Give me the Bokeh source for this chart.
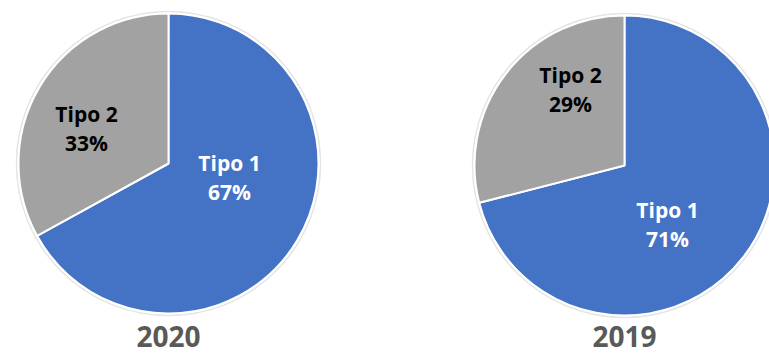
import math
from bokeh.plotting import figure
from bokeh.models import ColumnDataSource
from bokeh.core.properties import value
from bokeh.embed import file_html
from bokeh.resources import INLINE

# ---- data ----
years = ["2020", "2019"]
categories = ["Tipo 1", "Tipo 2"]
shares_2020 = [67, 33]
shares_2019 = [71, 29]

# ---- styling ----
W, H = 769, 354
colors = ["#4472C4", "#A2A2A2"]
text_colors = ["#FFFFFF", "#000000"]
centers = {"2020": (168, 191), "2019": (624, 189)}   # in figure px (y up)
radius = 150
label_offsets = {"2020": [(61, -14), (-82, 35)], "2019": [(43, -59), (-54, 76)]}
line_gap = 14.5
title_y = 18

p = figure(width=W, height=H, x_range=(0, W), y_range=(0, H),
           output_backend="svg", toolbar_location=None, min_border=0)
p.axis.visible = False
p.grid.visible = False
p.outline_line_color = None
p.background_fill_color = "white"
p.border_fill_color = "white"

for year, shares in zip(years, [shares_2020, shares_2019]):
    cx, cy = centers[year]
    total = sum(shares)
    starts, ends = [], []
    a = math.pi / 2
    for s in shares:
        starts.append(a)
        a = a - 2 * math.pi * s / total
        ends.append(a)
    # faint outer ring
    p.circle(x=[cx], y=[cy], radius=radius + 2, fill_color=None,
             line_color="#E4E4E4", line_width=1.5)
    src = ColumnDataSource(dict(x=[cx] * len(shares), y=[cy] * len(shares),
                                start=starts, end=ends, color=colors))
    p.wedge(x="x", y="y", radius=radius, start_angle="start", end_angle="end",
            direction="clock", fill_color="color", line_color="white",
            line_width=2, source=src)
    lx = [cx + dx for dx, dy in label_offsets[year]]
    ly = [cy + dy for dx, dy in label_offsets[year]]
    for texts, shift in ((list(categories), line_gap),
                         ([f"{s}%" for s in shares], -line_gap)):
        lsrc = ColumnDataSource(dict(x=lx, y=[v + shift for v in ly], t=texts, c=text_colors))
        p.text(x="x", y="y", text="t", text_color="c", source=lsrc,
               text_align="center", text_baseline="middle",
               text_font=value("Open Sans"), text_font_style="bold",
               text_font_size="21px")
    p.text(x=[cx], y=[title_y], text=[year], text_align="center",
           text_baseline="middle", text_font=value("Open Sans"),
           text_font_style="bold", text_font_size="28px", text_color="#595959")

open("out.html", "w").write(file_html(p, INLINE))
